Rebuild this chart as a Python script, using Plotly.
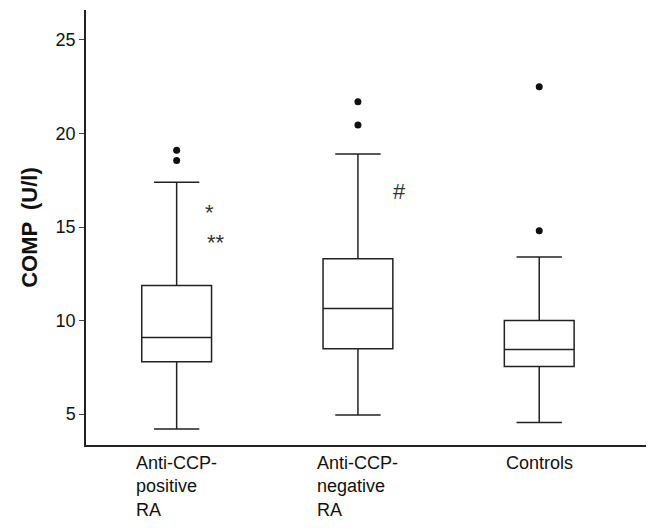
import plotly.graph_objects as go

groups = ["Anti-CCP-<br>positive<br>RA", "Anti-CCP-<br>negative<br>RA", "Controls"]
keys = ["pos", "neg", "ctl"]
lower = [4.2, 4.95, 4.55]
q1 = [7.8, 8.5, 7.55]
median = [9.1, 10.64, 8.45]
q3 = [11.87, 13.3, 10.0]
upper = [17.4, 18.9, 13.4]
outlier_x = ["pos", "pos", "neg", "neg", "ctl", "ctl"]
outlier_y = [19.1, 18.55, 21.7, 20.45, 22.5, 14.8]
marks = [("pos", "*", 33, 15.8), ("pos", "**", 39, 14.2), ("neg", "#", 42, 16.9)]

fig = go.Figure()
fig.add_trace(go.Box(
    x=keys, q1=q1, median=median, q3=q3, lowerfence=lower, upperfence=upper,
    fillcolor="white", line=dict(color="#222", width=1.5),
    whiskerwidth=0.65, boxpoints=False, showlegend=False,
))
fig.add_trace(go.Scatter(
    x=outlier_x, y=outlier_y, mode="markers",
    marker=dict(color="#111", size=7), showlegend=False,
))
for k, t, dx, y in marks:
    fig.add_annotation(x=k, y=y, text=t, showarrow=False, xshift=dx,
                       font=dict(size=22, color="#333"))
for k, g in zip(keys, groups):
    fig.add_annotation(x=k, y=0, yref="paper", text=g, showarrow=False, align="left",
                       yanchor="top", yshift=-6, font=dict(size=18, color="#111"))

fig.update_layout(
    width=654, height=528, margin=dict(l=78, r=14, t=2, b=91),
    plot_bgcolor="white", paper_bgcolor="white",
    font=dict(family="Liberation Sans, Arial, sans-serif", size=18, color="#111"),
    boxgap=0.45,
    xaxis=dict(showticklabels=False, showline=True, linecolor="#222", linewidth=1.5,
               showgrid=False, ticks="", range=[-0.5, 2.6], automargin=False),
    yaxis=dict(range=[3.35, 26.6], tickvals=[5, 10, 15, 20, 25], ticks="outside",
               ticklen=5, showline=True, linecolor="#222", linewidth=1.5,
               showgrid=False, zeroline=False, automargin=False,
               title=dict(text="<b>COMP  (U/l)</b>", standoff=12)),
)
fig.write_html("out.html")
